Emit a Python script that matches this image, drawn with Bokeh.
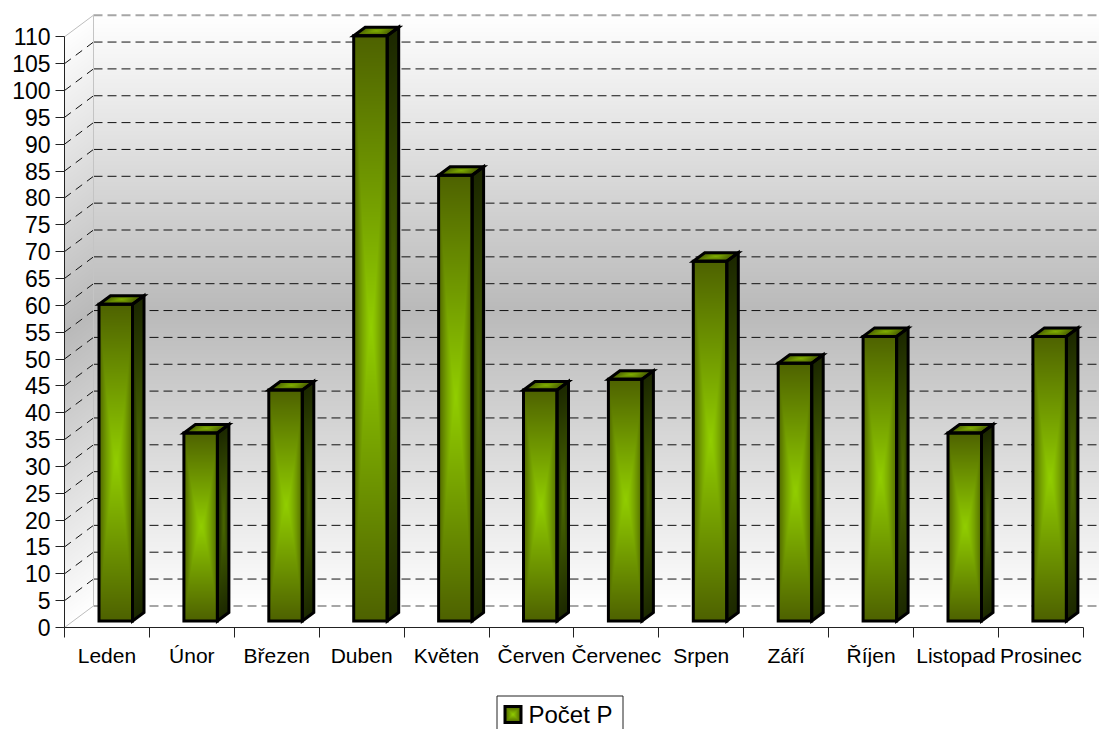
import numpy as np
from bokeh.core.properties import value
from bokeh.embed import file_html
from bokeh.layouts import column
from bokeh.models import FixedTicker, Range1d
from bokeh.plotting import figure
from bokeh.resources import INLINE

months = ["Leden", "Únor", "Březen", "Duben", "Květen", "Červen", "Červenec",
          "Srpen", "Září", "Říjen", "Listopad", "Prosinec"]
counts = [59, 35, 43, 109, 83, 43, 45, 67, 48, 53, 35, 53]
y_ticks = list(range(0, 115, 5))
series_name = "Počet P"

# pixel scales of the frame
PX_X = 84.9        # pixels per category
PX_Y = 5.37        # pixels per unit
LEFT, BOTTOM, RIGHT = 64, 627, 1099
CHART_H = 680
PAGE_H = 729

def xd(px):  # pixel distance -> x data distance
    return px / PX_X
def yd(px):
    return px / PX_Y

WALL_DX, WALL_DY = xd(29), yd(21.6)
BAR_DX, BAR_DY = xd(11.5), yd(8.5)
FLOOR_X, FLOOR_Y = xd(8.8), yd(6.5)
BAR_W = xd(33.5)

x_range = Range1d(0.5, 0.5 + xd(RIGHT - LEFT))
y_range = Range1d(0, yd(BOTTOM))

p = figure(width=RIGHT, height=CHART_H, output_backend="svg", toolbar_location=None,
           x_range=x_range, y_range=y_range, min_border_left=LEFT, min_border_right=0,
           min_border_top=0, min_border_bottom=CHART_H - BOTTOM,
           background_fill_color="white", border_fill_color="white", outline_line_color=None)
p.grid.visible = False

def rgba(r, g, b, a=None):
    a = np.full(r.shape, 255) if a is None else a
    return np.dstack([r, g, b, a]).astype(np.uint8).view(np.uint32).reshape(r.shape)

# walls -------------------------------------------------------------------
W, H = RIGHT - LEFT, BOTTOM
px, py = np.meshgrid(np.arange(W) + 0.5 + LEFT, np.arange(H) + 0.5)
TOPW, BOTW = 15.0, 605.7

def wall_gray(y):
    mid = (TOPW + BOTW) / 2
    t = np.clip(np.abs(y - mid) / (mid - TOPW), 0, 1)
    return 186 + (255 - 186) * t

shift = np.clip((px - LEFT) / 29.0, 0, 1) * 21.6
yy = py + shift - 21.6 * (px >= LEFT)
gray = wall_gray(yy)
alpha = ((yy >= TOPW) & (yy <= BOTW)) * 255
wall = rgba(gray, gray, gray, alpha)[::-1]
p.image_rgba(image=[wall], x=[0.5], y=[0], dw=[xd(W)], dh=[yd(H)])

# grid --------------------------------------------------------------------
wx = 0.5 + WALL_DX
mid_ticks = y_ticks[1:-1]
p.segment(x0=[wx] * len(mid_ticks), x1=[x_range.end] * len(mid_ticks),
          y0=[v + WALL_DY for v in mid_ticks], y1=[v + WALL_DY for v in mid_ticks],
          line_color="#111111", line_width=1, line_dash="9 5")
p.segment(x0=[0.5] * len(mid_ticks), x1=[wx] * len(mid_ticks),
          y0=mid_ticks, y1=[v + WALL_DY for v in mid_ticks],
          line_color="#111111", line_width=1, line_dash="8 6")
ends = [y_ticks[0], y_ticks[-1]]
p.segment(x0=[wx] * 2, x1=[x_range.end] * 2, y0=[v + WALL_DY for v in ends],
          y1=[v + WALL_DY for v in ends], line_color="#a6a6a6", line_width=2, line_dash="9 5")
p.segment(x0=[0.5] * 2, x1=[wx] * 2, y0=ends, y1=[v + WALL_DY for v in ends],
          line_color="#bdbdbd", line_width=1)
p.segment(x0=[wx], x1=[wx], y0=[ends[0] + WALL_DY], y1=[ends[1] + WALL_DY],
          line_color="#c4c4c4", line_width=1)

# bars --------------------------------------------------------------------
def ramp(t, c_mid, c_edge):
    t = t[..., None]
    return (np.array(c_mid) * (1 - t) + np.array(c_edge) * t)

def front_tex(w, h):
    u, v = np.meshgrid((np.arange(w) + .5) / w, (np.arange(h) + .5) / h)
    t = np.maximum(np.abs(2 * u - 1) ** 1.4, np.abs(2 * v - 1))
    c = ramp(t, (146, 206, 0), (78, 98, 0))
    return rgba(c[..., 0], c[..., 1], c[..., 2])

def side_tex(w, h, sk):
    u, v = np.meshgrid((np.arange(w) + .5) / w, np.arange(h + sk) + .5)
    yb = v - u * sk
    inside = (yb >= 0) & (yb <= h)
    vv = np.clip(yb / h, 0, 1)
    t = np.maximum(np.abs(2 * u - 1), np.abs(2 * vv - 1))
    c = ramp(t, (74, 104, 0), (28, 40, 0))
    return rgba(c[..., 0], c[..., 1], c[..., 2], inside * 255)

def top_tex(w, h, sk):
    u, v = np.meshgrid(np.arange(w + sk) + .5, (np.arange(h) + .5) / h)
    xb = u - v * sk
    inside = (xb >= 0) & (xb <= w)
    uu = np.clip(xb / w, 0, 1)
    t = np.maximum(np.abs(2 * uu - 1), np.abs(2 * v - 1))
    c = ramp(t, (130, 178, 0), (72, 92, 0))
    return rgba(c[..., 0], c[..., 1], c[..., 2], inside * 255)

fx, fy, sx, sy, tx, ty = [], [], [], [], [], []
for i, val in enumerate(counts):
    x0 = i + 1 + FLOOR_X - BAR_W / 2
    x1 = x0 + BAR_W
    y0 = FLOOR_Y
    y1 = y0 + val
    pw, ph = int(round(BAR_W * PX_X)), int(round(val * PX_Y))
    p.image_rgba(image=[front_tex(pw, ph)], x=[x0], y=[y0], dw=[BAR_W], dh=[val])
    p.image_rgba(image=[side_tex(12, ph, 9)], x=[x1], y=[y0], dw=[BAR_DX], dh=[val + BAR_DY])
    p.image_rgba(image=[top_tex(pw, 9, 12)], x=[x0], y=[y1], dw=[BAR_W + BAR_DX], dh=[BAR_DY])
    fx.append([x0, x1, x1, x0]); fy.append([y0, y0, y1, y1])
    sx.append([x1, x1 + BAR_DX, x1 + BAR_DX, x1]); sy.append([y0, y0 + BAR_DY, y1 + BAR_DY, y1])
    tx.append([x0, x1, x1 + BAR_DX, x0 + BAR_DX]); ty.append([y1, y1, y1 + BAR_DY, y1 + BAR_DY])

for xs, ys in ((sx, sy), (tx, ty), (fx, fy)):
    p.patches(xs, ys, fill_color=None, line_color="black", line_width=3, line_join="miter")

# axes --------------------------------------------------------------------
yax = p.yaxis[0]
yax.ticker = FixedTicker(ticks=y_ticks)
yax.bounds = (y_ticks[0], y_ticks[-1])
yax.major_label_text_font = "Liberation Sans"
yax.major_label_text_font_size = "23px"
yax.major_label_text_color = "black"
yax.major_tick_in = 0
yax.major_tick_out = 9
yax.minor_tick_line_color = None
yax.major_label_standoff = 5
yax.axis_line_color = "#222222"
yax.major_tick_line_color = "#222222"

centers = [i + 1 for i in range(len(months))]
bounds = [i + 0.5 for i in range(len(months) + 1)]
xax = p.xaxis[0]
xax.ticker = FixedTicker(ticks=centers, minor_ticks=bounds)
xax.bounds = (bounds[0], bounds[-1])
xax.major_label_overrides = {c: m for c, m in zip(centers, months)}
xax.major_label_text_font = "Liberation Sans"
xax.major_label_text_font_size = "21px"
xax.major_label_text_color = "black"
xax.major_tick_line_color = None
xax.major_tick_in = 0
xax.major_tick_out = 0
xax.minor_tick_in = 0
xax.minor_tick_out = 10
xax.minor_tick_line_color = "#222222"
xax.major_label_standoff = 6
xax.axis_line_color = "#222222"

# legend strip (a small figure below the chart, in page pixels) -------------
q = figure(width=RIGHT, height=PAGE_H - CHART_H, output_backend="svg", toolbar_location=None,
           x_range=Range1d(LEFT, RIGHT), y_range=Range1d(PAGE_H, CHART_H),
           x_axis_location=None, y_axis_location=None, min_border=0,
           background_fill_color="white", border_fill_color="white", outline_line_color=None)
q.grid.visible = False
q.quad(left=[496.5], right=[622.5], top=[695.5], bottom=[740], fill_color="white",
       line_color="#222222", line_width=1)
sw_w, sw_h = 16, 16
c_u, c_v = np.meshgrid((np.arange(sw_w) + .5) / sw_w, (np.arange(sw_h) + .5) / sw_h)
sw_t = np.maximum(np.abs(2 * c_u - 1), np.abs(2 * c_v - 1))
sw_c = ramp(sw_t, (146, 206, 0), (78, 98, 0))
q.image_rgba(image=[rgba(sw_c[..., 0], sw_c[..., 1], sw_c[..., 2])], x=[504.5], y=[706],
             dw=[16], dh=[16])
q.quad(left=[504.5], right=[520.5], top=[706], bottom=[722], fill_color=None,
       line_color="black", line_width=3, line_join="miter")
q.text(x=[528], y=[713.5], text=[series_name], text_font=value("Liberation Sans"),
       text_font_size="24px", text_color="black", text_baseline="alphabetic", text_align="left")

page = column(p, q, spacing=0, styles={"position": "absolute", "left": "0px", "top": "0px"})
open("out.html", "w").write(file_html(page, INLINE))
